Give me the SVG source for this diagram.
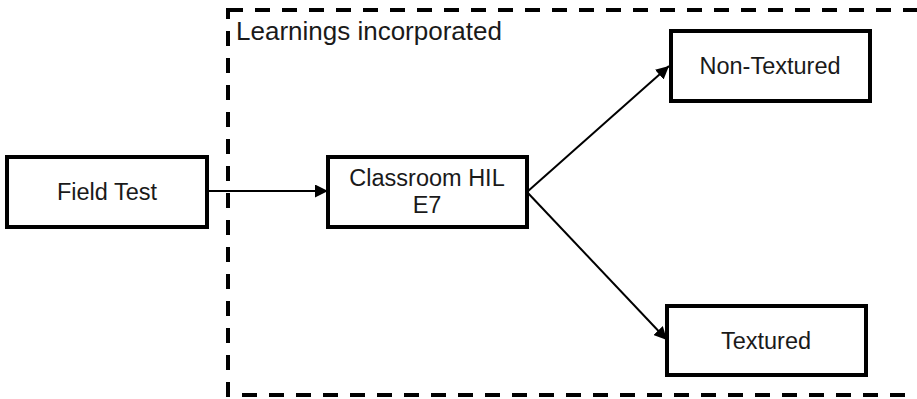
<svg xmlns="http://www.w3.org/2000/svg" width="917" height="399" viewBox="0 0 917 399">
<style>
.box{fill:#fff;stroke:#000;stroke-width:4}
.lbl{font-family:"Liberation Sans",Arial,sans-serif;font-size:23.5px;fill:#1a1a1a;text-anchor:middle}
.edge{stroke:#000;stroke-width:2;fill:none;marker-end:url(#ah)}
</style>
<defs>
<marker id="ah" viewBox="0 0 10 10" refX="10" refY="5" markerWidth="6.5" markerHeight="6.5" orient="auto" markerUnits="strokeWidth">
<path d="M0,0 L10,5 L0,10 z" fill="#000"/>
</marker>
</defs>
<rect x="229" y="0" width="688" height="399" fill="#fff"/>
<g id="group-learnings">
<rect x="228" y="10" width="740" height="385" fill="none" stroke="#000" stroke-width="4" stroke-dasharray="15 12"/>
<text x="236" y="40" font-family="Liberation Sans, Arial, sans-serif" font-size="26" fill="#1a1a1a">Learnings incorporated</text>
</g>
<g id="connectors">
<path class="edge" d="M207,191 L328,191"/>
<path class="edge" d="M527,192 L669,66"/>
<path class="edge" d="M527,192 L667,340"/>
</g>
<g id="field-test">
<rect class="box" x="7" y="157" width="200" height="70"/>
<text class="lbl" x="107" y="200">Field Test</text>
</g>
<g id="classroom-hil">
<rect class="box" x="328" y="157" width="199" height="70"/>
<text class="lbl" x="427" y="186">Classroom HIL</text>
<text class="lbl" x="427" y="213">E7</text>
</g>
<g id="non-textured">
<rect class="box" x="671" y="31" width="199" height="70"/>
<text class="lbl" x="770" y="74">Non-Textured</text>
</g>
<g id="textured">
<rect class="box" x="667" y="306" width="199" height="69"/>
<text class="lbl" x="766" y="349">Textured</text>
</g>
</svg>
